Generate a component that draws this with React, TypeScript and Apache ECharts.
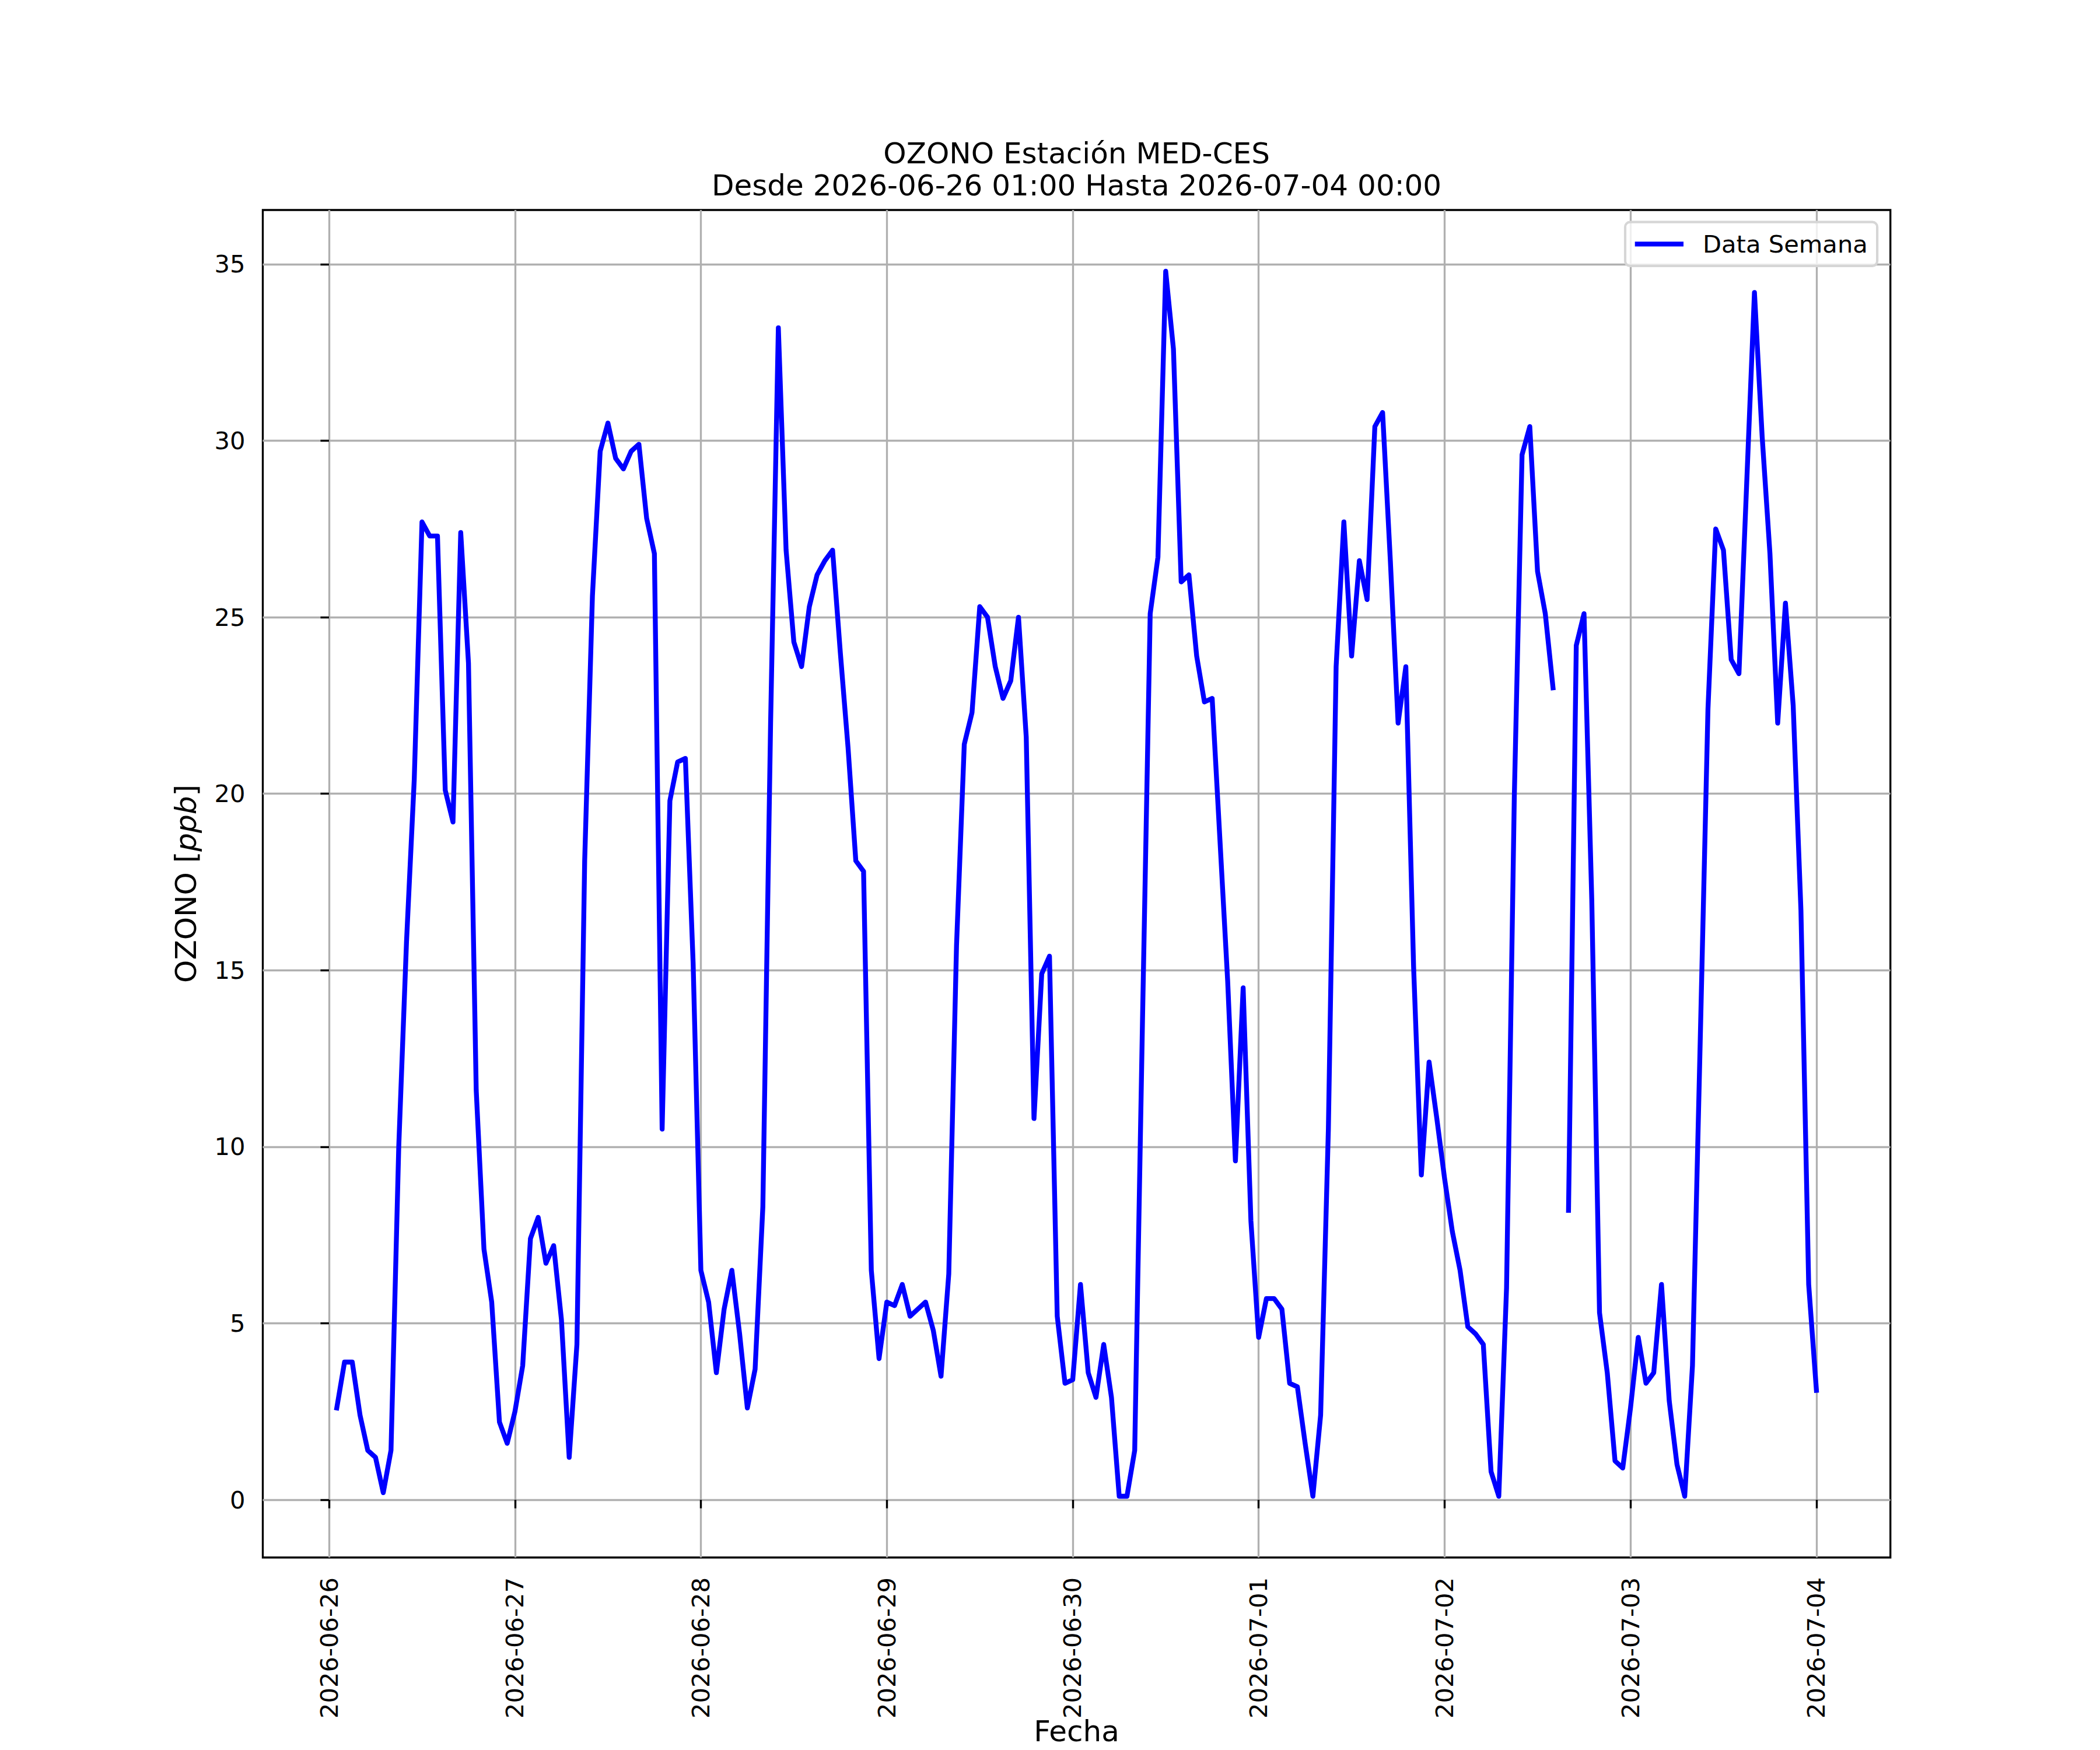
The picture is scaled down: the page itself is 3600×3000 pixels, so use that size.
import React, { useEffect, useRef } from "react";
import * as echarts from "echarts";

// Hourly ozone values (ppb). jun26 starts at 01:00, other days at 00:00.
const jun26 = [2.6, 3.9, 3.9, 2.4, 1.4, 1.2, 0.2, 1.4, 10.0, 15.8, 20.4, 27.7, 27.3, 27.3, 20.1, 19.2, 27.4, 23.7, 11.6, 7.1, 5.6, 2.2, 1.6];
const jun27 = [2.5, 3.8, 7.4, 8.0, 6.7, 7.2, 5.1, 1.2, 4.4, 18.1, 25.6, 29.7, 30.5, 29.5, 29.2, 29.7, 29.9, 27.8, 26.8, 10.5, 19.8, 20.9, 21.0, 15.2];
const jun28 = [6.5, 5.6, 3.6, 5.4, 6.5, 4.7, 2.6, 3.7, 8.3, 22.0, 33.2, 26.9, 24.3, 23.6, 25.3, 26.2, 26.6, 26.9, 24.0, 21.3, 18.1, 17.8, 6.5, 4.0];
const jun29 = [5.6, 5.5, 6.1, 5.2, 5.4, 5.6, 4.8, 3.5, 6.4, 15.7, 21.4, 22.3, 25.3, 25.0, 23.6, 22.7, 23.2, 25.0, 21.6, 10.8, 14.9, 15.4, 5.2, 3.3];
const jun30 = [3.4, 6.1, 3.6, 2.9, 4.4, 2.9, 0.1, 0.1, 1.4, 13.5, 25.1, 26.7, 34.8, 32.6, 26.0, 26.2, 23.9, 22.6, 22.7, 18.7, 14.7, 9.6, 14.5, 7.9];
const jul01 = [4.6, 5.7, 5.7, 5.4, 3.3, 3.2, 1.6, 0.1, 2.4, 10.5, 23.6, 27.7, 23.9, 26.6, 25.5, 30.4, 30.8, 26.6, 22.0, 23.6, 15.1, 9.2, 12.4, 10.8];
const jul02 = [9.1, 7.6, 6.5, 4.9, 4.7, 4.4, 0.8, 0.1, 6.0, 19.9, 29.6, 30.4, 26.3, 25.1, 23.0, null, 8.2, 24.2, 25.1, 17.0, 5.3, 3.6, 1.1, 0.9];
const jul03 = [2.6, 4.6, 3.3, 3.6, 6.1, 2.8, 1.0, 0.1, 3.8, 13.0, 22.4, 27.5, 26.9, 23.8, 23.4, 28.8, 34.2, 30.1, 26.8, 22.0, 25.4, 22.5, 16.7, 6.1];
const jul04 = [3.1];

const xTickLabels = ["2026-06-26", "2026-06-27", "2026-06-28", "2026-06-29", "2026-06-30", "2026-07-01", "2026-07-02", "2026-07-03", "2026-07-04"];
const yTickValues = [0, 5, 10, 15, 20, 25, 30, 35];

const seriesName = "Data Semana";
const titleLine1 = "OZONO Estación MED-CES";
const titleLine2 = "Desde 2026-06-26 01:00 Hasta 2026-07-04 00:00";
const xAxisTitle = "Fecha";

const FONT = "DejaVu Sans";

export default function App() {
  const ref = useRef<HTMLDivElement>(null);

  useEffect(() => {
    document.body.style.margin = "0";
    const chart = echarts.init(ref.current as HTMLDivElement, null, {
      renderer: "svg",
      width: 3600,
      height: 3000,
    });

    const values: (number | null)[] = [
      ...jun26, ...jun27, ...jun28, ...jun29, ...jun30, ...jul01, ...jul02, ...jul03, ...jul04,
    ];
    // hour index counted from 2026-06-26 00:00
    const data = values.map((v, i) => [i + 1, v]);
    const valid = values.filter((v) => v !== null) as number[];
    const xFirst = 1;
    const xLast = values.length;
    const xPad = 0.05 * (xLast - xFirst);
    const yLo = Math.min(...valid);
    const yHi = Math.max(...valid);
    const yPad = 0.05 * (yHi - yLo);
    const xTickValues = xTickLabels.map((_, i) => i * 24);

    const gridLeft = 450.5;
    const gridTop = 360;
    const gridRight = 3240.7;
    const gridBottom = 2670;
    const cx = (gridLeft + gridRight) / 2;

    chart.setOption({
      animation: false,
      backgroundColor: "#ffffff",
      grid: {
        left: gridLeft,
        top: gridTop,
        width: gridRight - gridLeft,
        height: gridBottom - gridTop,
        show: true,
        borderColor: "#000000",
        borderWidth: 3.33,
        backgroundColor: "transparent",
        containLabel: false,
        outerBoundsMode: "none",
      },
      xAxis: {
        type: "value",
        min: xFirst - xPad,
        max: xLast + xPad,
        axisLine: { show: false },
        axisTick: {
          show: true,
          inside: false,
          length: 14.6,
          lineStyle: { color: "#000000", width: 3.33 },
          customValues: xTickValues,
        },
        axisLabel: {
          show: true,
          rotate: 90,
          margin: 34,
          color: "#000000",
          fontSize: 41.67,
          fontFamily: FONT,
          customValues: xTickValues,
          formatter: (v: number) => xTickLabels[Math.round(v / 24)] ?? "",
        },
        splitLine: { show: true, lineStyle: { color: "#b0b0b0", width: 3.33 } },
      },
      yAxis: {
        type: "value",
        min: yLo - yPad,
        max: yHi + yPad,
        axisLine: { show: false },
        axisTick: {
          show: true,
          inside: false,
          length: 14.6,
          lineStyle: { color: "#000000", width: 3.33 },
          customValues: yTickValues,
        },
        axisLabel: {
          show: true,
          margin: 30,
          color: "#000000",
          fontSize: 41.67,
          fontFamily: FONT,
          customValues: yTickValues,
          formatter: (v: number) => String(v),
        },
        splitLine: { show: true, lineStyle: { color: "#b0b0b0", width: 3.33 } },
      },
      legend: {
        show: true,
        left: 2786,
        top: 380.7,
        orient: "horizontal",
        padding: [16.6, 16.3, 16.6, 16.7],
        itemWidth: 83.3,
        itemHeight: 8.33,
        backgroundColor: "rgba(255,255,255,0.8)",
        borderColor: "#d6d6d6",
        borderWidth: 4.17,
        borderRadius: 8.3,
        selectedMode: false,
        data: [{ name: seriesName, icon: "rect" }],
        textStyle: {
          color: "#000000",
          fontSize: 41.67,
          fontFamily: FONT,
          padding: [0, 0, 0, 28],
        },
      },
      series: [
        {
          name: seriesName,
          type: "line",
          data,
          showSymbol: false,
          symbol: "none",
          connectNulls: false,
          clip: true,
          lineStyle: { color: "#0000ff", width: 8.33, cap: "square", join: "round" },
          itemStyle: { color: "#0000ff" },
          z: 3,
        },
      ],
      graphic: {
        elements: [
          {
            type: "text",
            x: cx,
            y: 262.7,
            silent: true,
            style: {
              text: titleLine1,
              fill: "#000000",
              fontSize: 50,
              fontFamily: FONT,
              align: "center",
              verticalAlign: "middle",
            },
          },
          {
            type: "text",
            x: cx,
            y: 317.7,
            silent: true,
            style: {
              text: titleLine2,
              fill: "#000000",
              fontSize: 50,
              fontFamily: FONT,
              align: "center",
              verticalAlign: "middle",
            },
          },
          {
            type: "text",
            x: cx,
            y: 2968,
            silent: true,
            style: {
              text: xAxisTitle,
              fill: "#000000",
              fontSize: 50,
              fontFamily: FONT,
              align: "center",
              verticalAlign: "middle",
            },
          },
          {
            type: "text",
            x: 319,
            y: (gridTop + gridBottom) / 2,
            rotation: Math.PI / 2,
            silent: true,
            style: {
              text: "{a|OZONO [}{b|ppb}{a|]}",
              fill: "#000000",
              align: "center",
              verticalAlign: "middle",
              rich: {
                a: { fontSize: 50, fontFamily: FONT, fill: "#000000" },
                b: { fontSize: 50, fontFamily: FONT, fontStyle: "italic", fill: "#000000" },
              },
            },
          },
        ],
      },
    });

    return () => {
      chart.dispose();
    };
  }, []);

  return <div ref={ref} style={{ width: 3600, height: 3000 }} />;
}
